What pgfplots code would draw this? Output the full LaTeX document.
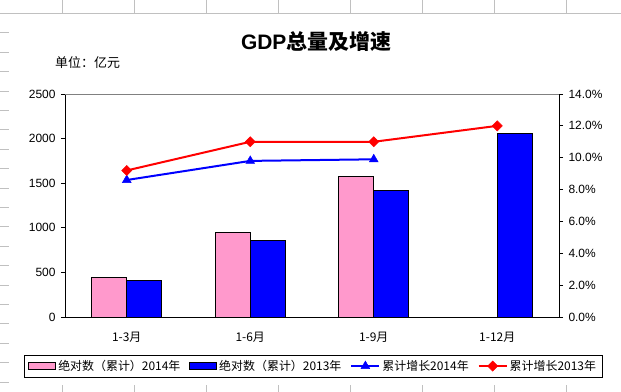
\documentclass[border=0pt]{standalone}
\usepackage{pgfplots}
\pgfplotsset{compat=1.18}
\usepackage{fontspec}
\setmainfont{Liberation Sans}
\newfontfamily\cjk{Noto Sans CJK SC}
\definecolor{xpink}{HTML}{FF99CC}
\definecolor{xblue}{HTML}{0000FF}
\definecolor{xred}{HTML}{FF0000}
\definecolor{sheetgray}{HTML}{C0C0C0}
\pgfplotsset{
  lineleg/.style={legend image code/.code={\draw[##1, mark repeat=2, mark phase=2] plot coordinates {(0bp,0bp) (14bp,0bp) (28bp,0bp)};}},
  arealeg/.style={legend image code/.code={\draw[##1] (0bp,-3.5bp) rectangle (27bp,3.5bp);}},
}
\begin{document}
\begin{tikzpicture}
\path[use as bounding box] (0,0) rectangle (621bp,392bp);
% spreadsheet background
\draw[sheetgray, line width=0.8bp] (0,378.5bp) -- (621bp,378.5bp);
\foreach \xx in {62,134,206,278,350,422,494,566} {
  \draw[sheetgray, line width=0.8bp] (\xx bp,378.5bp) -- (\xx bp,392bp);
  \draw[sheetgray, line width=0.8bp] (\xx bp,0bp) -- (\xx bp,7bp);
}
\foreach \k in {1,...,19} {
  \draw[sheetgray, line width=0.8bp] (0,{(378.5-19.4*\k)*1bp}) -- (9bp,{(378.5-19.4*\k)*1bp});
}
% titles
\node[font=\fontsize{21}{23}\selectfont\bfseries] at (316bp,350bp) {GDP{\cjk 总量及增速}};
\node[anchor=west, font=\cjk\fontsize{13}{15}\selectfont, inner sep=0pt] at (55bp,329bp) {单位：亿元};

\begin{axis}[
  scale only axis, width=494bp, height=223bp,
  at={(65bp,75bp)}, anchor=south west,
  xmin=-0.5, xmax=3.5, ymin=0, ymax=2500,
  axis x line*=bottom, axis y line*=left,
  axis line style={black, line width=0.8bp},
  ybar=0pt, bar width=35bp,
  xtick={0,1,2,3},
  xticklabels={{\cjk 1-3月},{\cjk 1-6月},{\cjk 1-9月},{\cjk 1-12月}},
  x tick style={draw=none},
  extra x ticks={0.5,1.5,2.5}, extra x tick labels={},
  extra x tick style={tick align=inside, major tick length=4bp, tick style={draw=black, line width=0.8bp}},
  ytick={0,500,1000,1500,2000,2500},
  y tick style={black, line width=0.8bp},
  tick align=outside, major tick length=4bp,
  /pgf/number format/assume math mode=true,
  tick label style={font=\fontsize{12}{14}\selectfont},
  yticklabel style={xshift=-2bp},
  xticklabel style={yshift=-8bp},
  scaled y ticks=false,
  yticklabel={\pgfmathprintnumber[1000 sep={}]{\tick}},
  clip=false,
]
\addplot[fill=xpink, draw=black, line width=0.9bp] coordinates {(0,445) (1,950) (2,1577)};
\addplot[fill=xblue, draw=black, line width=0.9bp] coordinates {(0,411) (1,860) (2,1420) (3,2059)};
\draw[gray, line width=0.8bp] (rel axis cs:0,1) -- (rel axis cs:1,1);
\end{axis}

\begin{axis}[
  scale only axis, width=494bp, height=223bp,
  at={(65bp,75bp)}, anchor=south west,
  xmin=-0.5, xmax=3.5, ymin=0, ymax=14,
  axis x line=none, axis y line*=right,
  axis line style={black, line width=0.8bp},
  ytick={0,2,4,6,8,10,12,14},
  y tick style={black, line width=0.8bp},
  tick align=outside, major tick length=4bp,
  /pgf/number format/assume math mode=true,
  tick label style={font=\fontsize{12}{14}\selectfont},
  yticklabel style={xshift=2bp},
  yticklabel={\pgfmathprintnumber[fixed,fixed zerofill,precision=1]{\tick}\%},
  clip=false,
  legend columns=4,
  legend style={at={(0.5025,-0.220)}, anchor=center, draw=black, line width=0.8bp,
    font=\cjk\fontsize{12}{14}\selectfont, inner xsep=4bp, inner ysep=3bp,
    /tikz/every even column/.append style={column sep=7bp},
    /tikz/every odd column/.append style={column sep=0bp}},
  legend cell align=left,
]
\addlegendimage{arealeg, fill=xpink, draw=black, line width=0.8bp}
\addlegendentry{绝对数（累计）2014年}
\addlegendimage{arealeg, fill=xblue, draw=black, line width=0.8bp}
\addlegendentry{绝对数（累计）2013年}
\addplot[xblue, line width=2bp, mark=triangle*, mark size=5bp, mark options={solid, line width=0.5bp}, lineleg]
  coordinates {(0,8.6) (1,9.8) (2,9.9)};
\addlegendentry{累计增长2014年}
\addplot[xred, line width=2bp, mark=square*, mark size=3.6bp, mark options={solid, rotate=45, line width=0.5bp}, lineleg]
  coordinates {(0,9.2) (1,11.0) (2,11.0) (3,12.0)};
\addlegendentry{累计增长2013年}
\end{axis}
\end{tikzpicture}
\end{document}
